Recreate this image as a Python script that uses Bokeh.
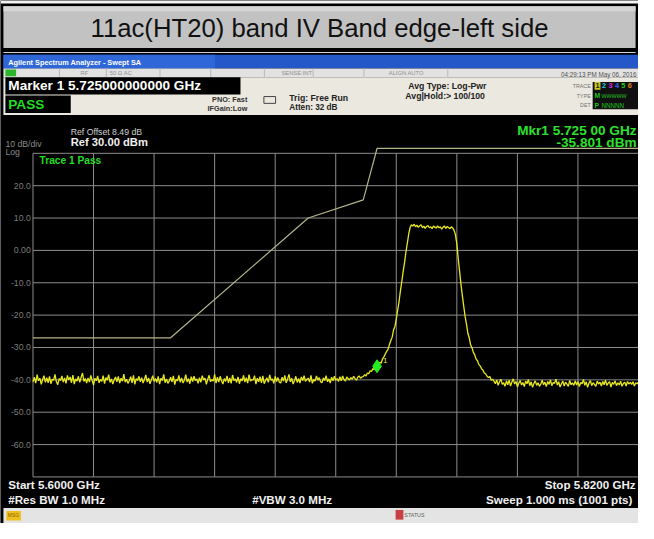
import numpy as np
from bokeh.plotting import figure
from bokeh.models import Range1d, Label, BoxAnnotation
from bokeh.embed import file_html
from bokeh.resources import INLINE

# ---------------- data ----------------
title_text = "11ac(HT20) band IV Band edge-left side"
start_ghz = 5.6
stop_ghz = 5.82
div_ghz = 0.022
ref_level = 30.0
bottom_level = -70.0
y_ticks = [20, 10, 0, -10, -20, -30, -40, -50, -60]
y_tick_labels = ["20.0", "10.0", "0.00", "-10.0", "-20.0", "-30.0", "-40.0", "-50.0", "-60.0"]

limit_freq = [5.600, 5.650, 5.700, 5.720, 5.725, 5.820]
limit_level = [-27.0, -27.0, 10.0, 15.6, 31.5, 31.5]

marker_freq = [5.725]
marker_level = [-35.801]

# trace, 0.5 MHz steps from 5.600 GHz to 5.820 GHz
trace_level = [
    # 5.6000 - 5.7195 GHz : noise floor
    -40.6, -39.2, -41.0, -38.4, -40.3, -39.5, -41.4, -39.9, -38.7, -40.8,
    -39.3, -40.9, -38.9, -41.2, -39.8, -40.1, -38.3, -40.6, -41.5, -39.6,
    -40.2, -38.8, -40.7, -39.4, -41.1, -38.6, -40.0, -39.1, -40.9, -38.5,
    -41.3, -39.7, -40.4, -38.9, -40.8, -39.2, -37.9, -40.5, -39.6, -41.0,
    -39.4, -40.7, -38.6, -40.2, -41.6, -39.5, -40.3, -38.8, -40.9, -39.9,
    -40.5, -38.7, -41.2, -39.3, -40.1, -38.4, -40.8, -39.7, -41.3, -40.0,
    -39.1, -40.6, -38.9, -41.0, -39.5, -40.4, -38.2, -40.7, -39.8, -41.1,
    -40.3, -39.0, -40.9, -38.6, -41.4, -39.6, -40.2, -38.9, -40.6, -39.3,
    -41.0, -39.8, -38.5, -40.7, -39.4, -41.2, -40.0, -38.7, -40.5, -39.6,
    -40.8, -38.9, -41.3, -39.5, -40.2, -38.3, -40.9, -39.7, -41.1, -40.4,
    -39.2, -40.6, -38.8, -41.5, -39.9, -40.3, -38.6, -40.8, -39.4, -41.0,
    -40.1, -38.4, -40.7, -39.6, -41.2, -39.0, -40.5, -38.9, -40.2, -39.7,
    -41.1, -39.3, -40.8, -38.7, -40.0, -39.5, -41.4, -39.8, -38.6, -40.6,
    -39.9, -40.4, -38.3, -41.0, -39.2, -40.7, -38.9, -40.3, -41.3, -39.6,
    -40.5, -38.8, -40.9, -39.4, -41.1, -38.5, -40.2, -39.7, -40.8, -39.1,
    -41.2, -39.6, -40.3, -38.6, -40.7, -39.3, -41.0, -38.4, -40.4, -39.9,
    -40.0, -38.7, -41.3, -39.5, -40.6, -39.0, -40.9, -38.8, -41.2, -40.2,
    -39.4, -40.8, -38.5, -40.1, -39.7, -41.1, -38.9, -40.5, -39.3, -40.7,
    -41.0, -39.2, -40.4, -38.6, -40.9, -39.8, -38.3, -40.6, -39.5, -41.3,
    -40.3, -38.9, -40.8, -39.6, -41.0, -39.1, -40.2, -38.7, -40.5, -39.8,
    -39.5, -40.7, -38.6, -41.1, -39.9, -40.4, -38.8, -40.1, -39.3, -40.6,
    -40.9, -39.4, -40.2, -38.7, -40.6, -39.7, -41.0, -39.2, -40.3, -38.9,
    -40.1, -39.6, -40.5, -39.0, -40.3, -38.8, -39.9, -40.4, -39.1, -39.7,
    -40.0, -39.3, -39.8, -38.9, -39.6, -40.1, -39.2, -38.8, -39.5, -39.1,
    # 5.7200 - 5.7670 GHz : band edge and channel
    -39.0, -38.4, -38.8, -37.9, -38.1, -37.2, -37.4, -36.5, -36.9, -36.0,
    -35.8, -35.3, -34.6, -34.9, -33.5, -32.9, -32.0, -31.2, -30.6, -29.1,
    -27.9, -26.8, -24.6, -23.5, -21.2, -18.5, -15.8, -12.5, -9.6, -6.5,
    -3.8, -0.5, 2.2, 5.0, 7.0, 7.9, 7.5, 8.1, 7.3, 7.8,
    7.1, 7.6, 7.9, 7.0, 7.5, 6.8, 7.4, 7.7, 7.0, 7.3,
    6.7, 7.5, 7.2, 6.9, 7.6, 7.0, 7.3, 6.6, 7.2, 7.5,
    6.8, 7.4, 7.1, 6.7, 7.3, 6.9, 6.2, 4.8, 2.0, -2.5,
    -6.5, -10.5, -14.0, -17.2, -20.4, -22.8, -25.6, -27.0, -29.2, -30.1,
    -31.5, -32.3, -33.6, -34.1, -35.3, -35.7, -36.6, -37.0, -37.9, -38.2,
    -38.9, -39.3, -39.0, -40.1, -39.8,
    # 5.7675 - 5.8200 GHz : noise floor
    -40.4, -41.2, -40.0, -41.7, -40.6, -39.8, -41.4, -40.9, -42.0, -40.3,
    -41.5, -40.1, -41.9, -40.7, -39.7, -41.3, -40.5, -42.2, -41.0, -40.2,
    -41.6, -40.8, -42.1, -40.4, -41.2, -39.9, -41.8, -40.6, -42.3, -41.1,
    -40.3, -41.7, -40.9, -42.0, -41.3, -40.1, -41.5, -40.7, -42.1, -40.5,
    -41.4, -40.0, -41.8, -40.8, -41.1, -39.8, -41.6, -40.6, -42.2, -41.2,
    -40.4, -41.9, -40.7, -41.3, -42.0, -40.2, -41.5, -40.9, -41.7, -40.3,
    -41.6, -40.5, -42.1, -40.8, -41.2, -39.9, -41.7, -40.6, -42.3, -41.0,
    -40.2, -41.8, -40.9, -41.4, -42.0, -40.4, -41.3, -40.7, -41.9, -40.5,
    -41.5, -40.1, -41.7, -41.0, -40.6, -42.2, -40.8, -41.4, -40.3, -41.8,
    -40.9, -41.6, -40.4, -42.0, -41.1, -40.7, -41.9, -40.5, -41.3, -40.8,
    -41.4, -40.6, -41.9, -40.9, -41.2, -40.7,
]
freq = np.linspace(start_ghz, stop_ghz, len(trace_level))

# ---------------- layout ----------------
REF_W, REF_H = 654, 539
W, H = 638, 523
SX, SY = W / REF_W, H / REF_H
GRID_L, GRID_R = 33.3, 654.0      # reference pixels of the graticule
GRID_T, GRID_B = 157.5, 491.0

ghz_per_px = (stop_ghz - start_ghz) / (GRID_R - GRID_L)
db_per_px = (ref_level - bottom_level) / (GRID_B - GRID_T)
x0 = start_ghz - GRID_L * ghz_per_px
x1 = stop_ghz + (REF_W - GRID_R) * ghz_per_px
y1 = ref_level + GRID_T * db_per_px
y0 = bottom_level - (REF_H - GRID_B) * db_per_px

p = figure(width=W, height=H, output_backend="svg", toolbar_location=None,
           x_range=Range1d(x0, x1), y_range=Range1d(y0, y1),
           x_axis_location=None, y_axis_location=None, min_border=0,
           background_fill_color="black", border_fill_color="black")
p.grid.visible = False
p.outline_line_color = None


def X(px):
    return px * SX


def Y(py):
    return H - py * SY


def box(l, t, r, b, color, line=None):
    p.add_layout(BoxAnnotation(left=X(l), right=X(r), top=Y(t), bottom=Y(b),
                               left_units="screen", right_units="screen",
                               top_units="screen", bottom_units="screen",
                               fill_color=color, fill_alpha=1.0,
                               line_color=line, line_alpha=1.0 if line else 0.0,
                               level="underlay"))


def lab(px, py, text, size, color, bold=True, align="left", font="Liberation Sans"):
    p.add_layout(Label(x=X(px), y=Y(py), x_units="screen", y_units="screen",
                       text=text, text_font=font, text_font_size=f"{size * SY:.1f}px",
                       text_color=color, text_font_style="bold" if bold else "normal",
                       text_align=align, text_baseline="middle"))


# title panel
box(0, 0, 654, 539, "black")
box(0, 0, 654, 3, "#f4f4f4")
box(3, 6, 651, 49, "#c2c2c2")
box(3, 6, 651, 11, "#d6d6d6")
box(3, 53, 651, 54, "#d0d0d0")
lab(327, 28, title_text, 26.5, "#111111", bold=False, align="center", font="Liberation Sans")

# instrument title bar
box(3, 56, 654, 70, "#2457c8")
box(3, 56, 220, 70, "#2f66d8")
lab(8, 63.5, "Agilent Spectrum Analyzer - Swept SA", 7.5, "white")

# status row
box(3, 70, 654, 79, "#e2e2e2")
box(5, 71, 16, 78, "#2bb52b")
for sx in [60, 108, 163, 215, 270, 320, 372, 458]:
    box(sx, 70, sx + 1, 79, "#b8b8b8")
lab(82, 74.5, "RF", 6, "#909090", bold=False)
lab(112, 74.5, "50 Ω    AC", 6, "#909090", bold=False)
lab(288, 74.5, "SENSE:INT", 6, "#909090", bold=False)
lab(398, 74.5, "ALIGN AUTO", 6, "#909090", bold=False)
lab(652, 76, "04:29:13 PM May 06, 2016", 6.5, "#505050", bold=False, align="right")

# settings panel
box(3, 79, 654, 118, "#ebe8df")
box(5, 79, 246, 97, "black")
lab(8, 88, "Marker 1 5.725000000000 GHz", 14, "white")
box(5, 98, 72, 116, "black")
lab(8, 107, "PASS", 14, "#22dd22")
lab(253, 102.5, "PNO: Fast", 7.5, "#333333", align="right")
lab(253, 111.5, "IFGain:Low", 7.5, "#333333", align="right")
box(270, 99, 282, 106, "#ebe8df", line="#444444")
lab(296, 100, "Trig: Free Run", 9, "#222222")
lab(296, 110, "Atten: 32 dB", 8.5, "#222222")
lab(418, 88, "Avg Type: Log-Pwr", 9, "#222222")
lab(415, 98, "Avg|Hold:> 100/100", 9, "#222222")
lab(605, 88, "TRACE", 5.5, "#707070", bold=False, align="right")
lab(605, 98, "TYPE", 5.5, "#707070", bold=False, align="right")
lab(605, 108, "DET", 5.5, "#707070", bold=False, align="right")
box(607, 84, 654, 112, "#101010")
box(609, 84, 615, 92, "#c8c820")
for i, (ch, col) in enumerate(zip("123456", ["#202020", "#20c8e8", "#e020e0", "#4060ff", "#20d020", "#e08020"])):
    lab(610 + i * 6.6, 88, ch, 7.5, col)
lab(609, 98, "M", 7, "#20c020")
lab(616, 98, "WWWWW", 5.5, "#20c020", bold=False)
lab(609, 108, "P", 7, "#20c020")
lab(616, 108, "NNNNN", 6.5, "#20c020", bold=False)

# screen header texts
lab(72, 136, "Ref Offset 8.49 dB", 9, "#d0d0d0", bold=False)
lab(72, 146, "Ref 30.00 dBm", 11.5, "#f0f0f0")
lab(5, 148, "10 dB/div", 9, "#8a8a8a", bold=False)
lab(5, 156, "Log", 9, "#8a8a8a", bold=False)
lab(652, 134, "Mkr1 5.725 00 GHz", 14, "#2ee02e", align="right")
lab(652, 146, "-35.801 dBm", 14, "#2ee02e", align="right")
lab(40, 165, "Trace 1 Pass", 10.5, "#22dd22")

# graticule from the tick arrays
x_grid = [start_ghz + k * div_ghz for k in range(11)]
y_grid = [ref_level - k * 10 for k in range(11)]
p.segment(x0=x_grid, y0=[bottom_level] * len(x_grid), x1=x_grid, y1=[ref_level] * len(x_grid),
          line_color="#8c8c8c", line_width=1)
p.segment(x0=[start_ghz] * len(y_grid), y0=y_grid, x1=[stop_ghz] * len(y_grid), y1=y_grid,
          line_color="#8c8c8c", line_width=1)

for v, t in zip(y_ticks, y_tick_labels):
    p.add_layout(Label(x=X(31), y=v, x_units="screen", y_units="data", text=t,
                       text_font="Liberation Sans", text_font_size=f"{9 * SY:.1f}px",
                       text_color="#7c7c7c", text_align="right", text_baseline="middle"))

# limit line, trace, marker
p.line(limit_freq, limit_level, line_color="#b4b48a", line_width=1.2)
p.line(freq, trace_level, line_color="#e8e820", line_width=1.3)
p.scatter(marker_freq, marker_level, marker="diamond", size=13, fill_color="#22ee22",
          line_color="#22ee22")
p.add_layout(Label(x=marker_freq[0], y=marker_level[0], x_offset=6, y_offset=6,
                   text="1", text_font="Liberation Sans", text_font_size="8px",
                   text_color="#e8e820", text_baseline="middle"))

# footer texts
lab(8, 499, "Start 5.6000 GHz", 12, "#f0f0f0")
lab(8, 514, "#Res BW 1.0 MHz", 12, "#f0f0f0")
lab(258, 514, "#VBW 3.0 MHz", 12, "#f0f0f0")
lab(651, 499, "Stop 5.8200 GHz", 12, "#f0f0f0", align="right")
lab(651, 514, "Sweep  1.000 ms (1001 pts)", 12, "#f0f0f0", align="right")

# message bar
box(3, 523, 654, 539, "#e4e4e4")
box(6, 526, 21, 536, "#f0c020")
lab(7.5, 531, "MSG", 5, "#806000", bold=False)
box(405, 525, 413, 535, "#c84040")
lab(414, 530, "STATUS", 5.5, "#606060", bold=False)

open("out.html", "w").write(file_html(p, INLINE))
